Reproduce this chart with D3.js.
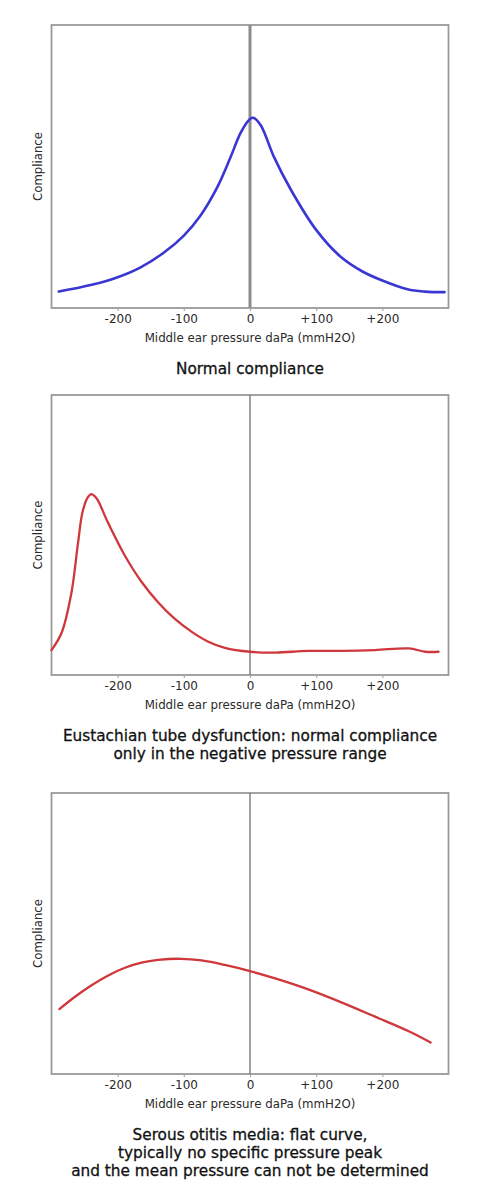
<!DOCTYPE html>
<html>
<head>
<meta charset="utf-8">
<script src="https://cdn.jsdelivr.net/npm/d3@7"></script>
<style>
  html, body { margin: 0; padding: 0; background: #fff; }
  svg { display: block; }
</style>
</head>
<body>
<svg id="chart" width="480" height="1200"></svg>
<script>
// ---- data ----
const tickValues = [-200, -100, 0, 100, 200];
const tickLabels = ["-200", "-100", "0", "+100", "+200"];
const xTitle = "Middle ear pressure daPa (mmH2O)";
const yTitle = "Compliance";

// Normal compliance (blue)
const normalX = [-289, -241, -200, -166, -130, -100, -75, -49, -29, -14, 0, 5, 16, 36, 62, 100, 137, 170, 200, 238, 264, 294];
const normalY = [5.8, 8.1, 10.9, 14.3, 19.6, 25.6, 32.6, 42.9, 53.5, 62.0, 66.8, 67.2, 64.7, 53.5, 41.7, 27.6, 18.1, 12.9, 9.7, 6.6, 5.8, 5.6];

// Eustachian tube dysfunction (red)
const etdX = [-300, -285, -270, -260, -253, -245, -240, -232, -215, -189, -164, -139, -114, -88, -63, -38, 0, 38, 88, 139, 189, 240, 265, 285];
const etdY = [8.9, 14.9, 29.2, 47.0, 58.3, 63.5, 64.6, 63.1, 54.6, 42.6, 33.3, 26.0, 20.1, 15.4, 11.9, 9.7, 8.3, 8.0, 8.6, 8.6, 8.9, 9.5, 8.3, 8.3];

// Serous otitis media (red)
const somX = [-288, -265, -240, -215, -189, -164, -139, -104, -73, -38, 0, 38, 88, 139, 189, 240, 273];
const somY = [23.1, 27.4, 31.5, 35.0, 37.8, 39.6, 40.6, 41.0, 40.4, 38.8, 36.6, 34.0, 30.1, 25.4, 20.4, 15.2, 11.2];

const captions = [
  ["Normal compliance"],
  ["Eustachian tube dysfunction: normal compliance", "only in the negative pressure range"],
  ["Serous otitis media: flat curve,", "typically no specific pressure peak", "and the mean pressure can not be determined"]
];

// ---- layout ----
const svg = d3.select("#chart");
const FONT = "'DejaVu Sans', Verdana, sans-serif";
const left = 51.5, right = 448.5;
const panels = [
  { top: 25, bottom: 308, xs: normalX, ys: normalY, color: "#3a36d4", width: 2.6, zeroW: 3, zeroC: "#8c8c8c", cap: captions[0] },
  { top: 395, bottom: 675, xs: etdX, ys: etdY, color: "#d0373c", width: 2.3, zeroW: 1.4, zeroC: "#7a7a7a", cap: captions[1] },
  { top: 793, bottom: 1074, xs: somX, ys: somY, color: "#d0373c", width: 2.3, zeroW: 1.4, zeroC: "#7a7a7a", cap: captions[2] }
];

const x = d3.scaleLinear().domain([-300, 300]).range([left, right]);

panels.forEach(p => {
  const y = d3.scaleLinear().domain([0, 100]).range([p.bottom, p.top]);
  const g = svg.append("g");

  // frame
  g.append("rect")
    .attr("x", left).attr("y", p.top)
    .attr("width", right - left).attr("height", p.bottom - p.top)
    .attr("fill", "none").attr("stroke", "#9a9a9a").attr("stroke-width", 1.8);

  // x axis
  const axis = d3.axisBottom(x)
    .tickValues(tickValues)
    .tickSize(3)
    .tickPadding(3)
    .tickFormat((d, i) => tickLabels[i]);
  const ax = g.append("g").attr("transform", `translate(0,${p.bottom})`).call(axis);
  ax.select(".domain").remove();
  ax.selectAll(".tick line").attr("stroke", "#aaa").attr("stroke-width", 1.2);
  ax.selectAll(".tick text")
    .attr("font-family", FONT).attr("font-size", 12).attr("fill", "#2a2a2a");

  // zero line
  g.append("line")
    .attr("x1", x(0)).attr("x2", x(0))
    .attr("y1", p.top).attr("y2", p.bottom)
    .attr("stroke", p.zeroC).attr("stroke-width", p.zeroW);

  // curve
  const pts = p.xs.map((v, i) => [v, p.ys[i]]);
  g.append("path")
    .datum(pts)
    .attr("fill", "none")
    .attr("stroke", p.color)
    .attr("stroke-width", p.width)
    .attr("stroke-linecap", "round")
    .attr("stroke-linejoin", "round")
    .attr("d", d3.line().x(d => x(d[0])).y(d => y(d[1])).curve(d3.curveCatmullRom.alpha(0.5)));

  // axis titles
  g.append("text")
    .attr("x", x(0)).attr("y", p.bottom + 34)
    .attr("text-anchor", "middle")
    .attr("font-family", FONT).attr("font-size", 11.8).attr("fill", "#2a2a2a")
    .text(xTitle);

  g.append("text")
    .attr("transform", `translate(42,${(p.top + p.bottom) / 2}) rotate(-90)`)
    .attr("text-anchor", "middle")
    .attr("font-family", FONT).attr("font-size", 11.7).attr("fill", "#2a2a2a")
    .text(yTitle);

  // caption
  p.cap.forEach((line, i) => {
    g.append("text")
      .attr("x", x(0)).attr("y", p.bottom + 66 + i * 17.8)
      .attr("text-anchor", "middle")
      .attr("font-family", FONT).attr("font-size", 15.3)
      .attr("fill", "#111").attr("stroke", "#111").attr("stroke-width", 0.3)
      .text(line);
  });
});
</script>
</body>
</html>
